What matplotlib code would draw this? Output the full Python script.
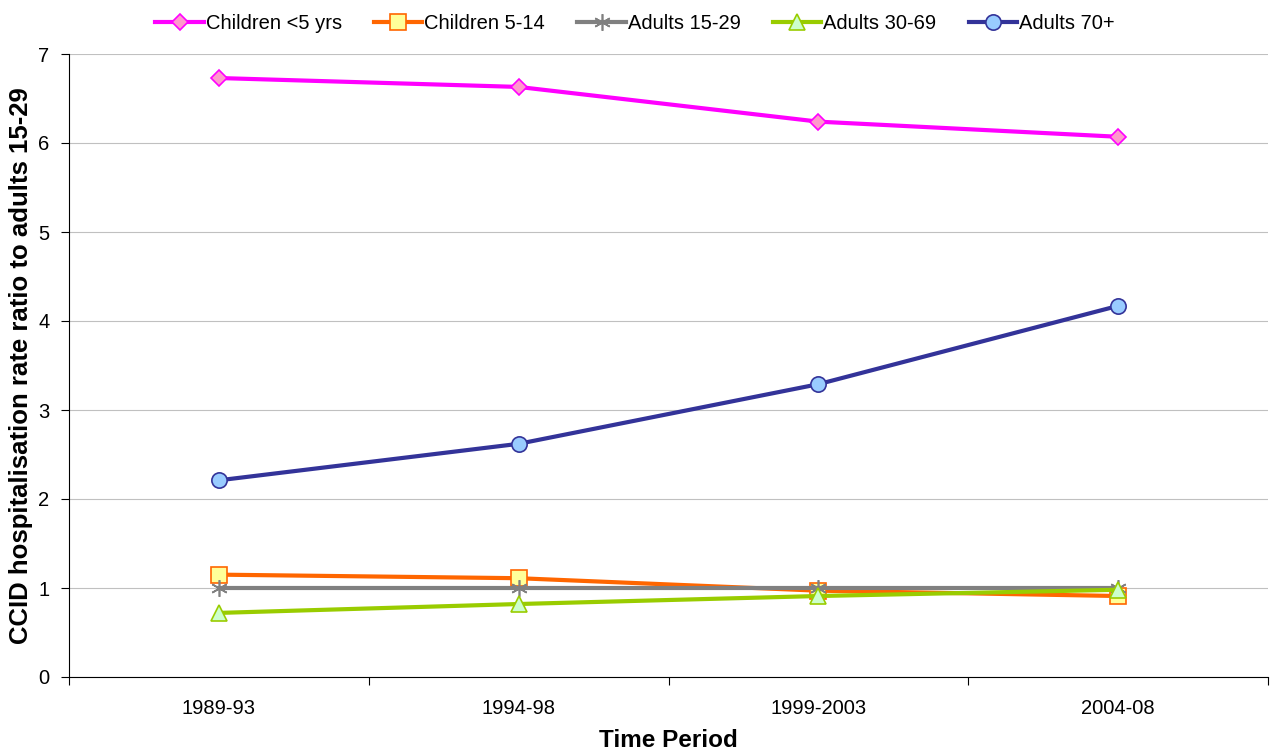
import matplotlib.pyplot as plt
from matplotlib.ticker import MultipleLocator, FixedLocator

plt.rcParams['font.family'] = ['Liberation Sans', 'DejaVu Sans']

periods = ["1989-93", "1994-98", "1999-2003", "2004-08"]

children_u5 = [6.73, 6.63, 6.24, 6.07]
children_5_14 = [1.15, 1.11, 0.97, 0.91]
adults_15_29 = [1.0, 1.0, 1.0, 1.0]
adults_30_69 = [0.72, 0.82, 0.91, 0.98]
adults_70 = [2.21, 2.62, 3.29, 4.17]

series = [
    ("Children <5 yrs", children_u5, "#FF00FF", "D", "#FF99CC", "#FF00FF", 8),
    ("Children 5-14", children_5_14, "#FF6600", "s", "#FFFF99", "#FF6600", 11),
    ("Adults 15-29", adults_15_29, "#808080", (6, 2, 0), "#808080", "#808080", 12),
    ("Adults 30-69", adults_30_69, "#99CC00", "^", "#CCFFCC", "#99CC00", 11),
    ("Adults 70+", adults_70, "#333399", "o", "#99CCFF", "#333399", 11),
]

fig = plt.figure(figsize=(12.7, 7.55), dpi=100)
ax = fig.add_axes([69 / 1270, 1 - 677 / 755, 1199 / 1270, 623 / 755])

x = list(range(len(periods)))
for name, vals, col, mk, fc, ec, ms in series:
    ax.plot(x, vals, color=col, lw=3, marker=mk, markersize=ms,
            markerfacecolor=fc, markeredgecolor=ec, markeredgewidth=1.2,
            label=name, zorder=3)

ax.set_xlim(-0.5, len(periods) - 0.5)
ax.set_ylim(0, 7)
ax.yaxis.set_major_locator(MultipleLocator(1))
ax.grid(axis='y', color='#C0C0C0', lw=0.8)
ax.set_axisbelow(True)

ax.set_xticks(x)
ax.set_xticklabels(periods, fontsize=14.5)
ax.xaxis.set_minor_locator(FixedLocator([i - 0.5 for i in range(len(periods) + 1)]))
ax.tick_params(axis='x', which='major', length=0, pad=16)
ax.tick_params(axis='x', which='minor', length=6, direction='out', width=0.8)
ax.tick_params(axis='y', labelsize=14.5, length=6, width=0.8, pad=8)

for s in ['top', 'right']:
    ax.spines[s].set_visible(False)
ax.spines['left'].set_linewidth(0.8)
ax.spines['bottom'].set_linewidth(0.8)

ax.set_xlabel("Time Period", fontsize=17.5, fontweight='bold', labelpad=8)
ax.set_ylabel("CCID hospitalisation rate ratio to adults 15-29", fontsize=18.5,
              fontweight='bold', labelpad=4)

fig.legend(loc='upper center', bbox_to_anchor=(0.5, 1.005), ncol=5, frameon=False,
           fontsize=14.5, handlelength=2.4, handletextpad=0.1, columnspacing=1.6)

fig.savefig("out.png", dpi=100)
